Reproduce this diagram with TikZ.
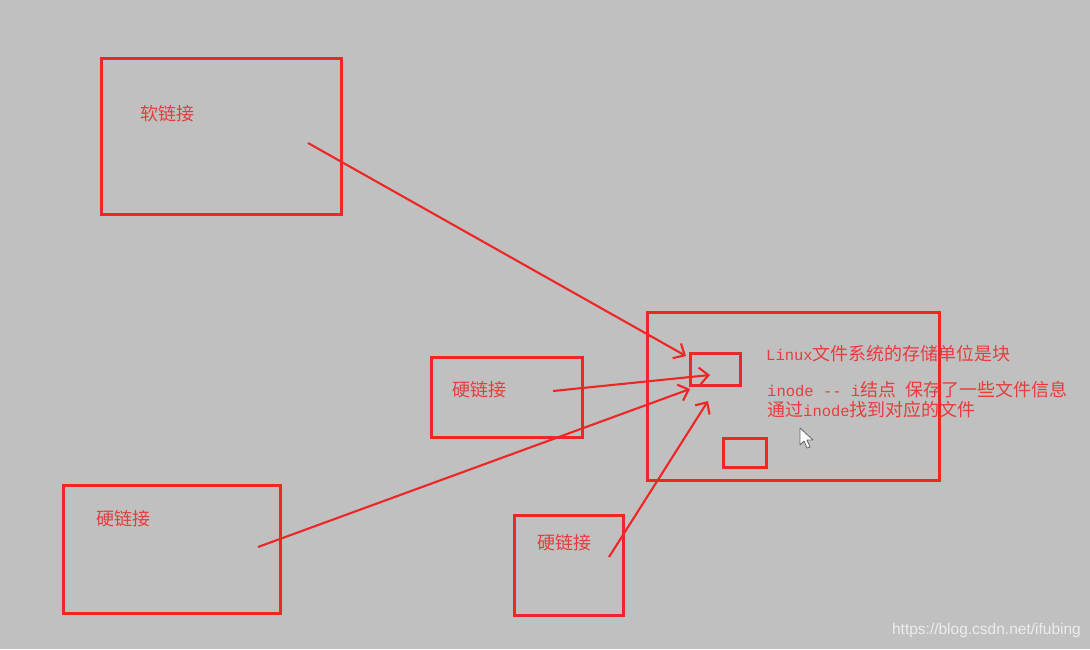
\documentclass[tikz,border=0pt]{standalone}
\usepackage{fontspec}
\newfontfamily\cjk{Noto Sans CJK SC}
\newfontfamily\mono{Liberation Mono}
\newfontfamily\wm{Liberation Sans}
\usetikzlibrary{arrows.meta}
\definecolor{bg}{RGB}{192,192,192}
\definecolor{pen}{RGB}{238,38,38}
\definecolor{ink}{RGB}{232,60,60}
\definecolor{wmc}{RGB}{236,236,236}
\tikzset{
  box/.style={draw=pen, line width=2.6pt, inner sep=0pt, anchor=north west},
  lbl/.style={text=ink, inner sep=0pt, anchor=west, font=\cjk\fontsize{18}{20}\selectfont},
  note/.style={text=ink, inner sep=0pt, anchor=west, font=\cjk\fontsize{18}{20}\selectfont},
  link/.style={draw=pen, line width=2.1pt, -{Straight Barb[length=9pt,width=17pt,line width=2.1pt]}},
}
\newcommand{\latin}[1]{{\mono\fontsize{15.5}{20}\selectfont #1}}
\begin{document}
\begin{tikzpicture}[x=1pt,y=-1pt]
\fill[bg] (0,0) rectangle (1090,649);
\useasboundingbox (0,0) rectangle (1090,649);

% boxes
\node[box, minimum width=240pt, minimum height=156pt] (soft) at (100,57) {};
\node[box, minimum width=151pt, minimum height=80pt] (hard1) at (430,356) {};
\node[box, minimum width=217pt, minimum height=128pt] (hard2) at (62,484) {};
\node[box, minimum width=109pt, minimum height=100pt] (hard3) at (513,514) {};
\node[box, minimum width=292pt, minimum height=168pt] (fs) at (646,311) {};
\node[box, minimum width=50pt, minimum height=32pt] (blk1) at (689,352) {};
\node[box, minimum width=43pt, minimum height=29pt] (blk2) at (722,437) {};

% labels
\node[lbl] (tsoft) at (140,114) {软链接};
\node[lbl] (th1) at (452,390) {硬链接};
\node[lbl] (th2) at (96,519) {硬链接};
\node[lbl] (th3) at (537,543) {硬链接};

\node[note] (n1) at (766,354) {\latin{Linux}文件系统的存储单位是块};
\node[note] (n2) at (767,390) {\latin{inode -- i}结点\hspace{9pt}保存了一些文件信息};
\node[note] (n3) at (767,410) {通过\latin{inode}找到对应的文件};

% connector ends
\coordinate (s0) at (308,143);
\coordinate (s1) at (686,356);
\coordinate (a0) at (553,391);
\coordinate (a1) at (710,375);
\coordinate (b0) at (258,547);
\coordinate (b1) at (690,389);
\coordinate (c0) at (609,557);
\coordinate (c1) at (708,401);

\draw[link] (s0) -- (s1);
\draw[link] (a0) -- (a1);
\draw[link] (b0) -- (b1);
\draw[link] (c0) -- (c1);

% mouse cursor
\draw[fill=white, draw=gray!80!black, line width=0.8pt, line join=round]
  (800,428) -- (800,445) -- (804,441) -- (807,448) -- (810,447) -- (807,440) -- (813,440) -- cycle;

% watermark
\node[text=wmc, inner sep=0pt, anchor=east, font=\wm\fontsize{15.5}{18}\selectfont] (wm) at (1081,630) {https://blog.csdn.net/ifubing};
\end{tikzpicture}
\end{document}
